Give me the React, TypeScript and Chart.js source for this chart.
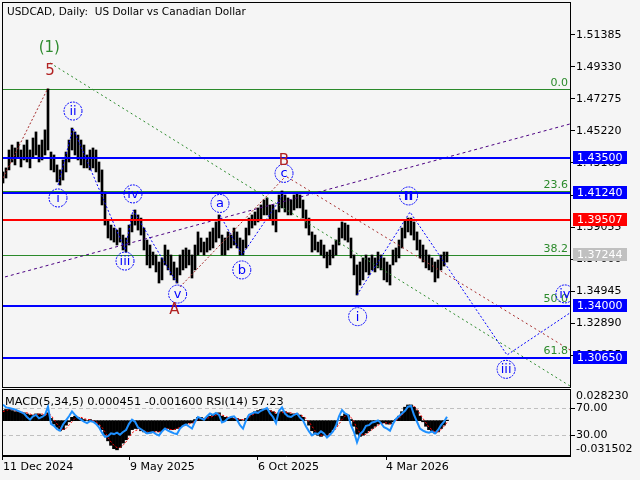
import React, { useEffect, useRef } from 'react';
import { Chart, registerables } from 'chart.js';
Chart.register(...registerables);

// ---------------- DATA ----------------
const titleText = 'USDCAD, Daily:  US Dollar vs Canadian Dollar';
const indicatorText = 'MACD(5,34,5) 0.000451 -0.001600 RSI(14) 57.23';

// price bars (each entry ~2.5 daily bars), high / low
const highs = [
  1.4259, 1.4285, 1.4400, 1.4432, 1.4413, 1.4451, 1.4400, 1.4432, 1.4464, 1.4400,
  1.4477, 1.4516, 1.4432, 1.4464, 1.4529, 1.4792, 1.4387, 1.4368, 1.4304, 1.4272,
  1.4336, 1.4387, 1.4464, 1.4541, 1.4516, 1.4496, 1.4464, 1.4432, 1.4368, 1.4400,
  1.4413, 1.4400, 1.4323, 1.4272, 1.4130, 1.3951, 1.3918, 1.3899, 1.3886, 1.3899,
  1.3854, 1.3835, 1.3918, 1.3983, 1.4015, 1.3983, 1.3963, 1.3899, 1.3822, 1.3790,
  1.3745, 1.3726, 1.3681, 1.3707, 1.3790, 1.3758, 1.3726, 1.3681, 1.3643, 1.3726,
  1.3758, 1.3771, 1.3758, 1.3726, 1.3790, 1.3874, 1.3835, 1.3809, 1.3835, 1.3874,
  1.3899, 1.3938, 1.3983, 1.3854, 1.3835, 1.3874, 1.3854, 1.3899, 1.3874, 1.3835,
  1.3822, 1.3899, 1.3963, 1.3983, 1.4002, 1.4028, 1.4047, 1.4079, 1.4092, 1.4047,
  1.4047, 1.4015, 1.4111, 1.4137, 1.4111, 1.4092, 1.4079, 1.4111, 1.4124, 1.4111,
  1.4079, 1.4015, 1.3963, 1.3874, 1.3854, 1.3809, 1.3822, 1.3790, 1.3745, 1.3758,
  1.3790, 1.3822, 1.3899, 1.3938, 1.3931, 1.3918, 1.3835, 1.3726, 1.3662, 1.3681,
  1.3707, 1.3726, 1.3707, 1.3726, 1.3707, 1.3745, 1.3726, 1.3707, 1.3681, 1.3662,
  1.3758, 1.3771, 1.3822, 1.3899, 1.3951, 1.3963, 1.3963, 1.3938, 1.3874, 1.3822,
  1.3790, 1.3758, 1.3726, 1.3707, 1.3681, 1.3694, 1.3726, 1.3745, 1.3745,
];
const lows = [
  1.4188, 1.4220, 1.4272, 1.4323, 1.4304, 1.4349, 1.4291, 1.4336, 1.4323, 1.4285,
  1.4349, 1.4368, 1.4323, 1.4336, 1.4368, 1.4400, 1.4272, 1.4259, 1.4195, 1.4175,
  1.4207, 1.4259, 1.4323, 1.4400, 1.4368, 1.4336, 1.4304, 1.4285, 1.4285, 1.4272,
  1.4285, 1.4259, 1.4195, 1.4047, 1.3918, 1.3835, 1.3822, 1.3809, 1.3790, 1.3809,
  1.3758, 1.3745, 1.3790, 1.3874, 1.3918, 1.3886, 1.3854, 1.3758, 1.3662, 1.3643,
  1.3662, 1.3617, 1.3546, 1.3566, 1.3662, 1.3630, 1.3598, 1.3566, 1.3546, 1.3598,
  1.3630, 1.3643, 1.3662, 1.3578, 1.3630, 1.3726, 1.3745, 1.3726, 1.3745, 1.3758,
  1.3771, 1.3809, 1.3835, 1.3726, 1.3726, 1.3758, 1.3771, 1.3790, 1.3771, 1.3726,
  1.3726, 1.3771, 1.3854, 1.3899, 1.3918, 1.3938, 1.3951, 1.3983, 1.3983, 1.3951,
  1.3918, 1.3874, 1.4002, 1.4028, 1.4002, 1.3983, 1.3983, 1.4015, 1.4028, 1.4028,
  1.3963, 1.3899, 1.3854, 1.3745, 1.3758, 1.3745, 1.3726, 1.3707, 1.3643, 1.3662,
  1.3707, 1.3726, 1.3790, 1.3835, 1.3822, 1.3809, 1.3707, 1.3598, 1.3469, 1.3533,
  1.3566, 1.3617, 1.3598, 1.3630, 1.3617, 1.3643, 1.3630, 1.3566, 1.3553, 1.3533,
  1.3662, 1.3681, 1.3707, 1.3771, 1.3835, 1.3874, 1.3854, 1.3822, 1.3758, 1.3707,
  1.3681, 1.3643, 1.3630, 1.3617, 1.3553, 1.3578, 1.3630, 1.3655, 1.3681,
];

// MACD main (histogram) and signal, in price units
const macdMain = [
  0.009, 0.010, 0.010, 0.009, 0.008, 0.008, 0.007, 0.007, 0.006, 0.005,
  0.005, 0.006, 0.006, 0.005, 0.005, 0.007, 0.002, -0.003, -0.006, -0.009,
  -0.008, -0.004, -0.001, 0.003, 0.004, 0.003, 0.002, 0.001, 0.000, 0.001,
  0.000, -0.002, -0.004, -0.008, -0.013, -0.018, -0.022, -0.025, -0.026, -0.024,
  -0.020, -0.017, -0.013, -0.008, -0.007, -0.007, -0.009, -0.010, -0.011, -0.011,
  -0.010, -0.009, -0.010, -0.009, -0.007, -0.007, -0.008, -0.008, -0.007, -0.006,
  -0.004, -0.003, -0.002, -0.002, 0.001, 0.003, 0.003, 0.002, 0.003, 0.004,
  0.005, 0.006, 0.007, 0.004, 0.003, 0.003, 0.003, 0.002, 0.002, 0.001,
  0.000, 0.002, 0.004, 0.006, 0.008, 0.009, 0.010, 0.010, 0.010, 0.009,
  0.008, 0.006, 0.007, 0.008, 0.008, 0.007, 0.006, 0.006, 0.006, 0.005,
  0.003, 0.000, -0.004, -0.009, -0.012, -0.013, -0.014, -0.013, -0.013, -0.011,
  -0.008, -0.004, 0.000, 0.004, 0.006, 0.005, 0.001, -0.005, -0.012, -0.014,
  -0.013, -0.011, -0.009, -0.007, -0.005, -0.003, -0.002, -0.002, -0.003, -0.003,
  -0.001, 0.001, 0.004, 0.008, 0.012, 0.014, 0.014, 0.012, 0.009, 0.004,
  -0.001, -0.005, -0.008, -0.010, -0.011, -0.010, -0.007, -0.004, 0.000451,
];
const macdSignal = [
  0.008, 0.009, 0.010, 0.010, 0.009, 0.008, 0.008, 0.007, 0.007, 0.006,
  0.005, 0.005, 0.006, 0.006, 0.005, 0.006, 0.005, 0.001, -0.003, -0.006,
  -0.008, -0.007, -0.004, -0.001, 0.002, 0.003, 0.003, 0.002, 0.001, 0.001,
  0.000, -0.001, -0.003, -0.006, -0.010, -0.015, -0.019, -0.022, -0.024, -0.024,
  -0.022, -0.019, -0.015, -0.011, -0.009, -0.008, -0.008, -0.009, -0.010, -0.011,
  -0.010, -0.010, -0.010, -0.009, -0.008, -0.007, -0.008, -0.008, -0.007, -0.006,
  -0.005, -0.004, -0.003, -0.002, -0.001, 0.001, 0.002, 0.002, 0.002, 0.003,
  0.004, 0.005, 0.006, 0.005, 0.004, 0.003, 0.003, 0.002, 0.002, 0.001,
  0.001, 0.001, 0.003, 0.005, 0.006, 0.008, 0.009, 0.010, 0.010, 0.009,
  0.008, 0.007, 0.007, 0.007, 0.008, 0.007, 0.007, 0.006, 0.006, 0.005,
  0.004, 0.002, -0.001, -0.005, -0.009, -0.012, -0.013, -0.013, -0.013, -0.012,
  -0.010, -0.007, -0.003, 0.001, 0.004, 0.005, 0.003, -0.001, -0.007, -0.011,
  -0.013, -0.012, -0.010, -0.008, -0.006, -0.004, -0.003, -0.002, -0.002, -0.003,
  -0.002, 0.000, 0.002, 0.005, 0.009, 0.012, 0.013, 0.013, 0.010, 0.006,
  0.002, -0.002, -0.006, -0.008, -0.010, -0.010, -0.008, -0.005, -0.0016,
];
const rsiValues = [
  75, 71, 70, 69, 68, 66, 64, 62, 57, 53,
  58, 60, 55, 57, 60, 72, 47, 44, 39, 37,
  46, 52, 58, 65, 60, 56, 53, 50, 48, 51,
  50, 47, 42, 34, 28, 29, 33, 32, 34, 31,
  35, 38, 47, 53, 50, 42, 39, 36, 33, 34,
  35, 32, 30, 36, 40, 37, 35, 33, 32, 40,
  44, 46, 43, 40, 50, 57, 55, 53, 58, 62,
  60, 63, 60, 49, 51, 55, 57, 58, 53, 45,
  40, 52, 60, 62, 64, 63, 66, 68, 70, 62,
  57, 48, 66, 71, 62, 58, 57, 60, 62, 56,
  52, 43, 36, 30, 33, 32, 36, 33, 27, 31,
  36, 44, 58, 67, 62, 60, 45, 35, 20, 32,
  36, 44, 45, 49, 50, 52, 48, 42, 40, 37,
  47, 54, 58, 62, 66, 72, 73, 60, 50, 40,
  37, 35, 34, 36, 33, 38, 45, 50, 57.23,
];

const dateTickPos = [0, 42.33, 85, 127.67];
const dateTickLabels = ['11 Dec 2024', '9 May 2025', '6 Oct 2025', '4 Mar 2026'];
const priceTicks = [1.51385, 1.4933, 1.47275, 1.4522, 1.43165, 1.4111, 1.39055, 1.37, 1.34945, 1.3289, 1.30835];
const rsiTicks = [70, 30];
const macdMax = 0.02823;
const macdMin = -0.031502;

const levelValues = [1.435, 1.4124, 1.39507, 1.34, 1.3065];
const levelKinds = ['blue', 'blue', 'red', 'blue', 'blue'];
const currentPrice = 1.37244;
const fibValues = [1.4792, 1.4136, 1.3725, 1.3402, 1.3072];
const fibLabels = ['0.0', '23.6', '38.2', '50.0', '61.8'];

// wave drawing objects (x = bar group index, y = price)
const waveImpulse = [[18.33, 1.4175], [23.33, 1.4541], [40.67, 1.3758], [43.33, 1.4015], [58, 1.3546]];
const waveAbc = [[72.33, 1.3983], [79.67, 1.3726], [94, 1.413]];
const waveNew = [[118, 1.3469], [135.67, 1.4002], [168, 1.3084], [189, 1.3354]];
const riseTo5 = [[0, 1.422], [15, 1.4798]];
const lineAB = [[59, 1.3521], [94, 1.4227]];
const lineBDown = [[94.67, 1.4227], [189, 1.3116]];
const greenTrend = [[15.67, 1.4959], [189, 1.2885]];
const purpleTrend = [[0.67, 1.3585], [189, 1.4567]];

const circleLabels = [
  { t: 'ii', x: 23.33, y: 1.465 }, { t: 'i', x: 18.33, y: 1.4092 }, { t: 'iii', x: 40.67, y: 1.3687 },
  { t: 'iv', x: 43.33, y: 1.4118 }, { t: 'v', x: 58.2, y: 1.3475 }, { t: 'a', x: 72.33, y: 1.4057 },
  { t: 'b', x: 79.6, y: 1.363 }, { t: 'c', x: 93.67, y: 1.4250 }, { t: 'II', x: 135.2, y: 1.4105 },
  { t: 'i', x: 118.2, y: 1.3330 }, { t: 'iii', x: 167.7, y: 1.2992 }, { t: 'iv', x: 187.3, y: 1.3476 },
];
const waveTexts = [
  { t: 'A', x: 57.1, y: 1.3373, kind: 'red' }, { t: 'B', x: 93.67, y: 1.433, kind: 'red' },
  { t: '5', x: 15.67, y: 1.4907, kind: 'red' }, { t: '(1)', x: 15.43, y: 1.5053, kind: 'green' },
];

const xMin = -0.333;
const xMax = 189;
const yMin = 1.28785;
const yMax = 1.535;
const rsiMax = 97.8;

// ---------------- STYLE ----------------
const BG = '#f5f5f5';
const FONT = 'DejaVu Sans';
const COLORS: Record<string, string> = {
  blue: '#0000ff', red: '#ff0000', gray: '#c0c0c0', fib: '#2b8a2b', wave: '#0000ff',
  brown: '#a52a2a', green: '#2b8a2b', purple: '#4b0082', textRed: '#b22222', textGreen: '#2e8b2e',
};

Chart.defaults.font.family = FONT;
Chart.defaults.font.size = 11;
Chart.defaults.color = '#000';

const seg = (pts: number[][]) => pts.map(([x, y]) => ({ x, y }));

const lineDs = (pts: number[][], color: string, dash: number[]) => ({
  type: 'line' as const,
  data: seg(pts),
  borderColor: color,
  borderWidth: 1,
  borderDash: dash,
  pointRadius: 0,
  fill: false,
  tension: 0,
  order: 0,
});

const noPad = (s: any) => {
  s.paddingTop = 0;
  s.paddingBottom = 0;
  s.paddingLeft = 0;
  s.paddingRight = 0;
};

const mainPlugin = {
  id: 'mainDeco',
  beforeDatasetsDraw(chart: any) {
    const { ctx, chartArea: ca, scales } = chart;
    ctx.save();
    ctx.strokeStyle = COLORS.fib;
    ctx.lineWidth = 1;
    fibValues.forEach((v) => {
      const py = Math.round(scales.y.getPixelForValue(v)) + 0.5;
      ctx.beginPath();
      ctx.moveTo(ca.left, py);
      ctx.lineTo(ca.right, py);
      ctx.stroke();
    });
    ctx.restore();
  },
  afterDatasetsDraw(chart: any) {
    const { ctx, chartArea: ca, scales } = chart;
    const xs = scales.x, ys = scales.y;
    ctx.save();
    ctx.beginPath();
    ctx.rect(ca.left, ca.top, ca.right - ca.left, ca.bottom - ca.top);
    ctx.clip();
    levelValues.forEach((v, i) => {
      const py = Math.round(ys.getPixelForValue(v));
      ctx.strokeStyle = COLORS[levelKinds[i]];
      ctx.lineWidth = 2;
      ctx.beginPath();
      ctx.moveTo(ca.left, py);
      ctx.lineTo(ca.right, py);
      ctx.stroke();
    });
    ctx.fillStyle = COLORS.fib;
    ctx.font = `11px ${FONT}`;
    ctx.textAlign = 'right';
    ctx.textBaseline = 'alphabetic';
    fibValues.forEach((v, i) => {
      const py = Math.round(ys.getPixelForValue(v));
      ctx.fillText(fibLabels[i], ca.right - 2, py - 3);
    });
    circleLabels.forEach((c) => {
      const px = xs.getPixelForValue(c.x);
      const py = ys.getPixelForValue(c.y);
      ctx.strokeStyle = COLORS.wave;
      ctx.lineWidth = 1;
      ctx.setLineDash([2, 1]);
      ctx.beginPath();
      ctx.arc(px, py, 9, 0, Math.PI * 2);
      ctx.stroke();
      ctx.setLineDash([]);
      ctx.fillStyle = COLORS.wave;
      ctx.font = c.t === 'II' ? `bold 13px ${FONT}` : `13px ${FONT}`;
      ctx.textAlign = 'center';
      ctx.textBaseline = 'middle';
      ctx.fillText(c.t, px, py + 0.5);
    });
    waveTexts.forEach((w) => {
      const px = xs.getPixelForValue(w.x);
      const py = ys.getPixelForValue(w.y);
      ctx.fillStyle = w.kind === 'red' ? COLORS.textRed : COLORS.textGreen;
      ctx.font = `15px ${FONT}`;
      ctx.textAlign = 'center';
      ctx.textBaseline = 'middle';
      ctx.fillText(w.t, px, py);
    });
    ctx.fillStyle = '#000';
    ctx.font = `10.5px ${FONT}`;
    ctx.textAlign = 'left';
    ctx.textBaseline = 'alphabetic';
    ctx.fillText(titleText, ca.left + 5, ca.top + 13);
    ctx.restore();
  },
  afterDraw(chart: any) {
    const { ctx, chartArea: ca, scales } = chart;
    ctx.save();
    ctx.strokeStyle = '#000';
    ctx.lineWidth = 1;
    ctx.strokeRect(ca.left + 0.5, ca.top + 0.5, ca.right - ca.left, ca.bottom - ca.top);
    const boxes = [...levelValues.map((v, i) => ({ v, c: COLORS[levelKinds[i]] })), { v: currentPrice, c: COLORS.gray }];
    boxes.forEach((b) => {
      const py = Math.round(scales.y.getPixelForValue(b.v));
      ctx.fillStyle = b.c;
      ctx.fillRect(ca.right + 3, py - 7, 54, 13);
      ctx.fillStyle = '#fff';
      ctx.font = `11px ${FONT}`;
      ctx.textAlign = 'left';
      ctx.textBaseline = 'middle';
      ctx.fillText(b.v.toFixed(5), ca.right + 7, py);
    });
    ctx.restore();
  },
};

const macdPlugin = {
  id: 'macdDeco',
  beforeDatasetsDraw(chart: any) {
    const { ctx, chartArea: ca, scales } = chart;
    ctx.save();
    ctx.strokeStyle = '#c0c0c0';
    ctx.lineWidth = 1;
    ctx.setLineDash([4, 3]);
    rsiTicks.forEach((v) => {
      const py = Math.round(scales.y.getPixelForValue(v)) + 0.5;
      ctx.beginPath();
      ctx.moveTo(ca.left, py);
      ctx.lineTo(ca.right, py);
      ctx.stroke();
    });
    ctx.restore();
  },
  afterDatasetsDraw(chart: any) {
    const { ctx, chartArea: ca } = chart;
    ctx.save();
    ctx.fillStyle = '#000';
    ctx.font = `11.3px ${FONT}`;
    ctx.textAlign = 'left';
    ctx.textBaseline = 'alphabetic';
    ctx.fillText(indicatorText, ca.left + 3, ca.top + 16);
    ctx.restore();
  },
  afterDraw(chart: any) {
    const { ctx, chartArea: ca } = chart;
    ctx.save();
    ctx.strokeStyle = '#000';
    ctx.lineWidth = 1;
    ctx.strokeRect(ca.left + 0.5, ca.top + 0.5, ca.right - ca.left, ca.bottom - ca.top - 1);
    ctx.fillStyle = '#000';
    ctx.font = `11px ${FONT}`;
    ctx.textAlign = 'left';
    ctx.textBaseline = 'middle';
    ctx.fillText(macdMax.toFixed(6), ca.right + 6, ca.top + 7);
    ctx.fillText(macdMin.toFixed(6), ca.right + 6, ca.bottom - 7);
    ctx.restore();
  },
};

export default function App() {
  const mainRef = useRef<HTMLCanvasElement>(null);
  const macdRef = useRef<HTMLCanvasElement>(null);

  useEffect(() => {
    const priceBars = highs.map((h, i) => ({ x: i, y: [lows[i], h] }));
    const c1 = new Chart(mainRef.current as HTMLCanvasElement, {
      type: 'bar',
      data: {
        datasets: [
          lineDs(waveImpulse, COLORS.wave, [2, 2]),
          lineDs(waveAbc, COLORS.wave, [2, 2]),
          lineDs(waveNew, COLORS.wave, [2, 2]),
          lineDs(riseTo5, COLORS.brown, [2, 2]),
          lineDs(lineAB, COLORS.brown, [2, 2]),
          lineDs(lineBDown, COLORS.brown, [2, 3]),
          lineDs(greenTrend, COLORS.green, [2, 3]),
          lineDs(purpleTrend, COLORS.purple, [3, 3]),
          {
            type: 'bar' as const,
            data: priceBars as any,
            backgroundColor: '#000',
            borderWidth: 0,
            barThickness: 2,
            grouped: false,
            order: 5,
          } as any,
        ],
      },
      options: {
        responsive: false,
        animation: false,
        devicePixelRatio: 1,
        events: [],
        layout: { padding: { left: 2, top: 2, right: 0, bottom: 3 } },
        plugins: { legend: { display: false }, tooltip: { enabled: false } },
        scales: {
          x: { type: 'linear', min: xMin, max: xMax, display: false, offset: false, grid: { offset: false } },
          y: {
            type: 'linear',
            position: 'right',
            min: yMin,
            max: yMax,
            afterFit: (s: any) => { s.width = 70; noPad(s); },
            afterBuildTicks: (s: any) => { s.ticks = priceTicks.map((v) => ({ value: v })); },
            ticks: { callback: (v: any) => Number(v).toFixed(5), padding: 1, autoSkip: false, color: '#000' },
            grid: { drawOnChartArea: false, drawTicks: true, tickLength: 5, color: '#000' },
            border: { display: true, color: '#000' },
          },
        },
      } as any,
      plugins: [mainPlugin],
    });

    const c2 = new Chart(macdRef.current as HTMLCanvasElement, {
      type: 'bar',
      data: {
        datasets: [
          {
            type: 'line' as const,
            data: rsiValues.map((v, i) => ({ x: i, y: v })),
            yAxisID: 'y',
            borderColor: '#1e90ff',
            borderWidth: 2,
            pointRadius: 0,
            tension: 0,
            order: 0,
          },
          {
            type: 'line' as const,
            data: macdSignal.map((v, i) => ({ x: i, y: v })),
            yAxisID: 'ym',
            borderColor: '#ff0000',
            borderWidth: 1,
            borderDash: [2, 2],
            pointRadius: 0,
            tension: 0,
            order: 1,
          },
          {
            type: 'bar' as const,
            data: macdMain.map((v, i) => ({ x: i, y: v })) as any,
            yAxisID: 'ym',
            backgroundColor: '#000',
            borderWidth: 0,
            barThickness: 3,
            grouped: false,
            order: 2,
          } as any,
        ],
      },
      options: {
        responsive: false,
        animation: false,
        devicePixelRatio: 1,
        events: [],
        layout: { padding: { left: 2, top: 1, right: 0, bottom: 0 } },
        plugins: { legend: { display: false }, tooltip: { enabled: false } },
        scales: {
          x: {
            type: 'linear',
            min: xMin,
            max: xMax,
            offset: false,
            position: 'bottom',
            afterFit: (s: any) => { s.height = 24; noPad(s); },
            afterBuildTicks: (s: any) => { s.ticks = dateTickPos.map((v) => ({ value: v })); },
            ticks: {
              callback: (_v: any, i: number) => dateTickLabels[i],
              align: 'start',
              maxRotation: 0,
              minRotation: 0,
              autoSkip: false,
              padding: 1,
              color: '#000',
            },
            grid: { drawOnChartArea: false, tickLength: 4, color: '#000', offset: false },
            border: { display: true, color: '#000' },
          },
          y: {
            type: 'linear',
            position: 'right',
            min: 0,
            max: rsiMax,
            afterFit: (s: any) => { s.width = 70; noPad(s); },
            afterBuildTicks: (s: any) => { s.ticks = rsiTicks.map((v) => ({ value: v })); },
            ticks: { callback: (v: any) => Number(v).toFixed(2), padding: 1, autoSkip: false, color: '#000' },
            grid: { drawOnChartArea: false, tickLength: 5, color: '#000' },
            border: { display: true, color: '#000' },
          },
          ym: { type: 'linear', display: false, min: macdMin, max: macdMax },
        },
      } as any,
      plugins: [macdPlugin],
    });

    return () => {
      c1.destroy();
      c2.destroy();
    };
  }, []);

  return (
    <div style={{ position: 'fixed', left: 0, top: 0, width: 640, height: 480, background: BG, overflow: 'hidden' }}>
      <canvas ref={mainRef} width={640} height={390} style={{ position: 'absolute', left: 0, top: 0 }} />
      <canvas ref={macdRef} width={640} height={92} style={{ position: 'absolute', left: 0, top: 388 }} />
    </div>
  );
}
